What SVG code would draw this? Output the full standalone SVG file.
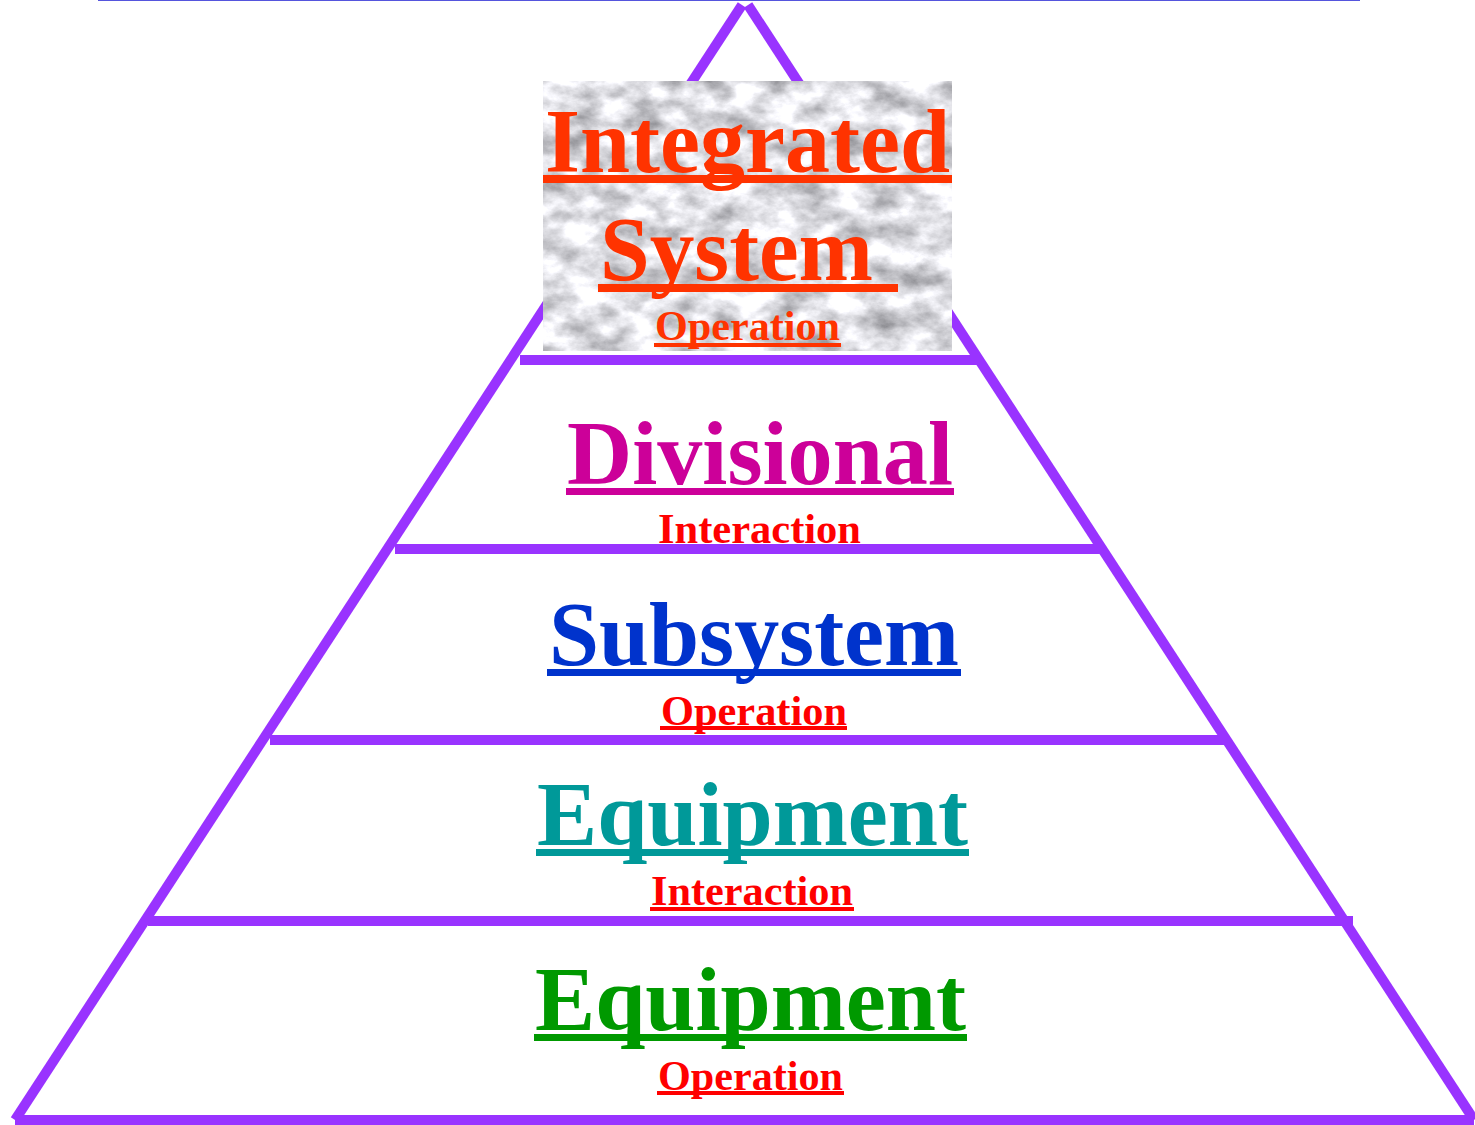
<svg xmlns="http://www.w3.org/2000/svg" width="1475" height="1125" viewBox="0 0 1475 1125">
<style>
.edge{stroke:#9933ff;stroke-width:10;fill:none;stroke-linecap:butt}
.big{font-family:"Liberation Serif","Times New Roman",serif;font-weight:bold;font-size:90px}
.small{font-family:"Liberation Serif","Times New Roman",serif;font-weight:bold;font-size:42px}
.or{fill:#ff3300}
.red{fill:#ff0000}
</style>
<defs>
<filter id="marble" x="0" y="0" width="100%" height="100%" color-interpolation-filters="sRGB">
<feTurbulence type="fractalNoise" baseFrequency="0.03 0.045" numOctaves="5" seed="7"/>
<feColorMatrix type="matrix" values="0.75 0 0 0 0.5  0.75 0 0 0 0.5  0.75 0 0 0 0.52  0 0 0 0 1"/>
</filter>
</defs>
<rect width="1475" height="1125" fill="#ffffff"/>
<line x1="98" y1="0" x2="1360" y2="0" stroke="#5555dd" stroke-width="2"/>

<g id="pyramid-lines">
<line class="edge" x1="742" y1="5" x2="15" y2="1120"/>
<line class="edge" x1="748" y1="5" x2="1474" y2="1120"/>
<line class="edge" x1="520" y1="360" x2="978" y2="360"/>
<line class="edge" x1="395" y1="549" x2="1103" y2="549"/>
<line class="edge" x1="270" y1="740" x2="1228" y2="740"/>
<line class="edge" x1="148" y1="921" x2="1353" y2="921"/>
<line class="edge" x1="15" y1="1120" x2="1474" y2="1120"/>
</g>

<g id="tier-integrated">
<rect x="543" y="81" width="409" height="270" fill="#e8e8e8" filter="url(#marble)"/>
<text class="big or" x="545" y="172" textLength="405" lengthAdjust="spacingAndGlyphs">Integrated</text>
<rect class="or" x="543" y="175" width="409" height="8"/>
<text class="big or" x="600" y="280" textLength="273" lengthAdjust="spacingAndGlyphs">System</text>
<rect class="or" x="598" y="284" width="300" height="8"/>
<text class="small or" x="655" y="340" textLength="185" lengthAdjust="spacingAndGlyphs">Operation</text>
<rect class="or" x="654" y="343" width="187" height="4"/>
</g>

<g id="tier-divisional">
<text class="big" fill="#cc0099" x="567" y="484" textLength="386" lengthAdjust="spacingAndGlyphs">Divisional</text>
<rect fill="#cc0099" x="566" y="488" width="388" height="7"/>
<text class="small red" x="658" y="543" textLength="203" lengthAdjust="spacingAndGlyphs">Interaction</text>
</g>

<g id="tier-subsystem">
<text class="big" fill="#0033cc" x="549" y="665" textLength="410" lengthAdjust="spacingAndGlyphs">Subsystem</text>
<rect fill="#0033cc" x="547" y="669" width="414" height="7"/>
<text class="small red" x="661" y="725" textLength="186" lengthAdjust="spacingAndGlyphs">Operation</text>
<rect class="red" x="660" y="726" width="187" height="4"/>
</g>

<g id="tier-equipment-interaction">
<text class="big" fill="#009999" x="537" y="845" textLength="431" lengthAdjust="spacingAndGlyphs">Equipment</text>
<rect fill="#009999" x="536" y="849" width="433" height="7"/>
<text class="small red" x="651" y="905" textLength="202" lengthAdjust="spacingAndGlyphs">Interaction</text>
<rect class="red" x="650" y="907" width="204" height="4"/>
</g>

<g id="tier-equipment-operation">
<text class="big" fill="#009900" x="535" y="1030" textLength="431" lengthAdjust="spacingAndGlyphs">Equipment</text>
<rect fill="#009900" x="534" y="1034" width="433" height="7"/>
<text class="small red" x="658" y="1090" textLength="185" lengthAdjust="spacingAndGlyphs">Operation</text>
<rect class="red" x="657" y="1091" width="187" height="4"/>
</g>
</svg>
